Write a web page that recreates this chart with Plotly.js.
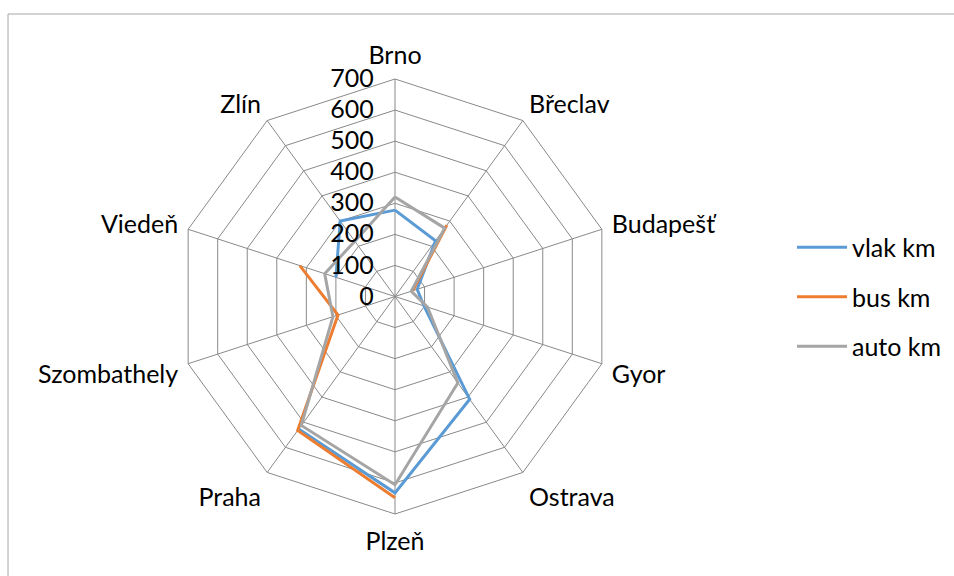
<!DOCTYPE html>
<html>
<head>
<meta charset="utf-8">
<script src="https://cdn.plot.ly/plotly-3.0.1.min.js"></script>
<style>html,body{margin:0;padding:0;background:#fff;}#chart{width:954px;height:576px;}</style>
</head>
<body>
<div id="chart"></div>
<script>
const categories = ["Brno", "Břeclav", "Budapešť", "Gyor", "Ostrava", "Plzeň", "Praha", "Szombathely", "Viedeň", "Zlín"];
const vlakKm = [278, 222, 75, 98, 409, 632, 527, null, 200, 300];
const busKm  = [null, 284, 60, null, null, 648, 533, 193, 322, null];
const autoKm = [320, 272, 55, 110, 344, 606, 513, 210, 238, 220];
const seriesNames = ["vlak km", "bus km", "auto km"];
const seriesColors = ["#5B9BD5", "#ED7D31", "#A5A5A5"];
const radialTicks = [0, 100, 200, 300, 400, 500, 600, 700];

function closed(arr) { return arr.concat([arr[0]]); }

const allSeries = [vlakKm, busKm, autoKm];
const traces = allSeries.map((vals, i) => ({
  type: "scatterpolar",
  mode: "lines",
  r: closed(vals),
  theta: closed(categories),
  name: seriesNames[i],
  legendgroup: "g" + i,
  connectgaps: false,
  line: {color: seriesColors[i], width: 3},
  hoverinfo: "skip"
}));

const W = 954, H = 576;
const cx = 395, cy = 296.5, R = 217.5;

const layout = {
  width: W, height: H,
  margin: {l: 0, r: 0, t: 0, b: 0},
  paper_bgcolor: "#ffffff",
  font: {family: "Lato, 'Open Sans', sans-serif", size: 25, color: "#000"},
  showlegend: true,
  legend: {
    x: 792 / W, y: (H - 297) / H, xanchor: "left", yanchor: "middle",
    font: {size: 25, color: "#000"},
    tracegroupgap: 14,
    itemwidth: 50,
    bgcolor: "rgba(0,0,0,0)"
  },
  polar: {
    domain: {x: [(cx - R) / W, (cx + R) / W], y: [(H - cy - R) / H, (H - cy + R) / H]},
    gridshape: "linear",
    bgcolor: "#ffffff",
    angularaxis: {
      type: "category",
      categoryarray: categories,
      direction: "clockwise",
      rotation: 90,
      showline: true,
      linecolor: "#898989",
      linewidth: 1,
      gridcolor: "#898989",
      gridwidth: 1,
      ticks: "outside",
      ticklen: 5,
      tickcolor: "rgba(0,0,0,0)",
      tickfont: {size: 25, color: "#000"}
    },
    radialaxis: {
      range: [0, 700],
      tickvals: radialTicks,
      ticktext: radialTicks.map(String),
      angle: 90,
      side: "counterclockwise",
      tickangle: 90,
      showline: false,
      gridcolor: "#898989",
      gridwidth: 1,
      ticks: "outside",
      ticklen: 12,
      tickcolor: "rgba(0,0,0,0)",
      tickfont: {size: 25, color: "#000"}
    }
  },
  shapes: [{
    type: "rect", xref: "paper", yref: "paper",
    x0: 8 / W, x1: 1.05, y0: -0.05, y1: (H - 14) / H,
    line: {color: "#a6a6a6", width: 1}, fillcolor: "rgba(0,0,0,0)", layer: "below"
  }]
};

Plotly.newPlot("chart", traces, layout, {displayModeBar: false, staticPlot: true});
</script>
</body>
</html>
